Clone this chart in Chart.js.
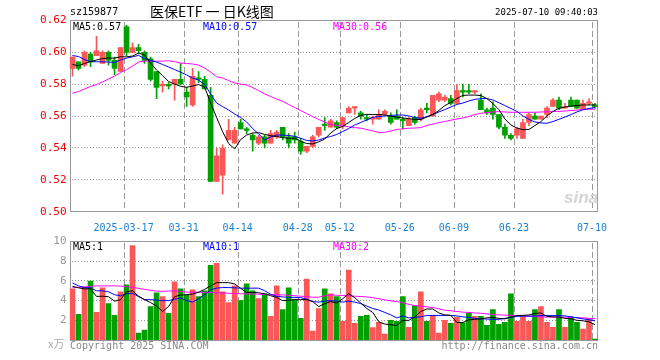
<!DOCTYPE html>
<html>
<head>
<meta charset="utf-8">
<script src="https://cdn.jsdelivr.net/npm/chart.js@4/dist/chart.umd.min.js"></script>
<style>
html,body{margin:0;padding:0;background:#fff;}
#wrap{position:relative;width:660px;height:360px;overflow:hidden;background:#fff;}
canvas{position:absolute;left:0;}
.t{position:absolute;white-space:nowrap;line-height:1;font-family:"DejaVu Sans Mono",monospace;font-size:10px;}
</style>
</head>
<body>
<div id="wrap">
  <canvas id="main" width="660" height="232" style="top:0"></canvas>
  <canvas id="vol" width="660" height="128" style="top:232px"></canvas>
  <div class="t" style="left:70px;top:7px;font-size:10px;color:#000">sz159877</div>
  <div class="t" style="left:150px;top:4px;font-size:14px;font-family:'Noto Sans CJK SC',sans-serif;color:#000">医保ETF 一 日K线图</div>
  <div class="t" style="right:62px;top:8px;font-size:9px;color:#000">2025-07-10 09:40:03</div>
  <div class="t" style="left:73px;top:22px;color:#000">MA5:0.57</div>
  <div class="t" style="left:203px;top:22px;color:#0000ff">MA10:0.57</div>
  <div class="t" style="left:333px;top:22px;color:#ff00ff">MA30:0.56</div>
  <div class="t" style="left:73px;top:242px;color:#000">MA5:1</div>
  <div class="t" style="left:203px;top:242px;color:#0000ff">MA10:1</div>
  <div class="t" style="left:333px;top:242px;color:#ff00ff">MA30:2</div>
  <div class="t" style="left:48px;top:338px;font-size:11px;color:#aaa;font-family:'Noto Sans CJK SC',serif">x万</div>
  <div class="t" style="left:70px;top:341px;color:#888">Copyright 2025 SINA.COM</div>
  <div class="t" style="right:62px;top:341px;color:#888">http://finance.sina.com.cn</div>
  <div class="t" style="left:564px;top:189px;font-size:17px;font-style:italic;font-weight:bold;color:#d4d4d4;font-family:'Liberation Sans',sans-serif">sina</div>
</div>
<script>
const dates = [
'2025-03-04','2025-03-05','2025-03-06','2025-03-07','2025-03-10','2025-03-11','2025-03-12','2025-03-13','2025-03-14','2025-03-17',
'2025-03-18','2025-03-19','2025-03-20','2025-03-21','2025-03-24','2025-03-25','2025-03-26','2025-03-27','2025-03-28','2025-03-31',
'2025-04-01','2025-04-02','2025-04-03','2025-04-07','2025-04-08','2025-04-09','2025-04-10','2025-04-11','2025-04-14','2025-04-15',
'2025-04-16','2025-04-17','2025-04-18','2025-04-21','2025-04-22','2025-04-23','2025-04-24','2025-04-25','2025-04-28','2025-04-29',
'2025-04-30','2025-05-06','2025-05-07','2025-05-08','2025-05-09','2025-05-12','2025-05-13','2025-05-14','2025-05-15','2025-05-16',
'2025-05-19','2025-05-20','2025-05-21','2025-05-22','2025-05-23','2025-05-26','2025-05-27','2025-05-28','2025-05-29','2025-05-30',
'2025-06-03','2025-06-04','2025-06-05','2025-06-06','2025-06-09','2025-06-10','2025-06-11','2025-06-12','2025-06-13','2025-06-16',
'2025-06-17','2025-06-18','2025-06-19','2025-06-20','2025-06-23','2025-06-24','2025-06-25','2025-06-26','2025-06-27','2025-06-30',
'2025-07-01','2025-07-02','2025-07-03','2025-07-04','2025-07-07','2025-07-08','2025-07-09','2025-07-10'];

const tickDates = ['2025-03-17','2025-03-31','2025-04-14','2025-04-28','2025-05-12','2025-05-26','2025-06-09','2025-06-23','2025-07-10'];
const tickTexts = ['2025-03-17','03-31','04-14','04-28','05-12','05-26','06-09','06-23','07-10'];

const opens = [0.590,0.594,0.592,0.599,0.598,0.593,0.600,0.595,0.588,0.616,
0.600,0.603,0.600,0.596,0.588,0.579,0.580,0.580,0.583,0.575,
0.567,0.584,0.583,0.573,0.519,0.523,0.545,0.543,0.556,0.552,
0.548,0.543,0.547,0.543,0.547,0.553,0.547,0.547,0.544,0.538,
0.541,0.548,0.555,0.553,0.556,0.554,0.562,0.565,0.562,0.559,
0.558,0.558,0.561,0.560,0.560,0.558,0.554,0.559,0.558,0.565,
0.560,0.570,0.570,0.571,0.568,0.576,0.576,0.575,0.570,0.564,
0.565,0.561,0.553,0.548,0.548,0.546,0.556,0.560,0.558,0.561,
0.566,0.570,0.565,0.570,0.570,0.564,0.568,0.567];
const highs = [0.597,0.594,0.601,0.600,0.610,0.601,0.601,0.597,0.603,0.617,
0.606,0.605,0.601,0.597,0.588,0.582,0.581,0.583,0.593,0.578,
0.590,0.588,0.585,0.578,0.540,0.542,0.558,0.553,0.558,0.553,
0.549,0.548,0.548,0.551,0.551,0.553,0.549,0.550,0.546,0.541,
0.548,0.553,0.559,0.558,0.557,0.559,0.566,0.566,0.563,0.561,
0.560,0.564,0.564,0.562,0.564,0.559,0.559,0.560,0.565,0.568,
0.573,0.575,0.573,0.573,0.580,0.580,0.580,0.576,0.574,0.565,
0.569,0.561,0.555,0.549,0.553,0.558,0.562,0.562,0.560,0.566,
0.571,0.572,0.568,0.572,0.570,0.570,0.571,0.568];
const lows = [0.585,0.589,0.591,0.591,0.598,0.593,0.592,0.586,0.588,0.598,
0.600,0.599,0.593,0.582,0.571,0.575,0.577,0.570,0.580,0.566,
0.566,0.581,0.577,0.519,0.519,0.511,0.545,0.543,0.552,0.549,
0.538,0.542,0.540,0.543,0.546,0.545,0.540,0.543,0.536,0.537,
0.540,0.547,0.551,0.553,0.552,0.552,0.562,0.561,0.558,0.557,
0.555,0.558,0.561,0.555,0.558,0.552,0.554,0.555,0.557,0.562,
0.560,0.569,0.569,0.567,0.568,0.572,0.574,0.574,0.564,0.561,
0.558,0.552,0.546,0.545,0.546,0.546,0.554,0.558,0.558,0.559,
0.566,0.564,0.565,0.566,0.565,0.564,0.567,0.565];
const closes = [0.597,0.590,0.600,0.594,0.601,0.600,0.595,0.590,0.603,0.600,
0.603,0.601,0.595,0.583,0.578,0.580,0.579,0.583,0.580,0.572,
0.585,0.583,0.577,0.519,0.535,0.540,0.551,0.551,0.552,0.551,
0.545,0.547,0.543,0.549,0.550,0.547,0.543,0.545,0.538,0.541,
0.547,0.553,0.554,0.557,0.553,0.559,0.565,0.566,0.560,0.558,
0.559,0.561,0.563,0.556,0.558,0.557,0.558,0.556,0.564,0.564,
0.573,0.574,0.572,0.568,0.576,0.575,0.575,0.576,0.564,0.562,
0.561,0.553,0.548,0.546,0.552,0.556,0.561,0.558,0.560,0.565,
0.570,0.565,0.566,0.566,0.565,0.568,0.569,0.566];

const ma5 = [0.5924,0.5916,0.5930,0.5942,0.5952,0.5961,0.5964,0.5964,0.5972,0.5972,
0.5977,0.5996,0.5983,0.5933,0.5889,0.5855,0.5817,0.5801,0.5787,0.5781,
0.5789,0.5798,0.5782,0.5682,0.5591,0.5502,0.5428,0.5394,0.5453,0.5481,
0.5494,0.5496,0.5485,0.5477,0.5472,0.5465,0.5461,0.5461,0.5441,0.5428,
0.5425,0.5438,0.5456,0.5494,0.5522,0.5535,0.5560,0.5585,0.5604,0.5611,
0.5610,0.5610,0.5607,0.5599,0.5594,0.5588,0.5584,0.5579,0.5579,0.5594,
0.5610,0.5635,0.5666,0.5686,0.5710,0.5730,0.5732,0.5732,0.5729,0.5710,
0.5679,0.5641,0.5582,0.5544,0.5525,0.5515,0.5516,0.5541,0.5566,0.5601,
0.5629,0.5649,0.5657,0.5663,0.5666,0.5670,0.5670,0.5670];
const ma10 = [0.5980,0.5974,0.5955,0.5942,0.5941,0.5941,0.5939,0.5937,0.5952,0.5964,
0.5972,0.5981,0.5961,0.5950,0.5939,0.5924,0.5908,0.5892,0.5876,0.5858,
0.5839,0.5826,0.5798,0.5739,0.5682,0.5660,0.5638,0.5613,0.5591,0.5563,
0.5522,0.5488,0.5450,0.5469,0.5481,0.5481,0.5478,0.5473,0.5461,0.5447,
0.5444,0.5450,0.5463,0.5472,0.5485,0.5503,0.5522,0.5544,0.5560,0.5576,
0.5592,0.5597,0.5601,0.5604,0.5607,0.5607,0.5601,0.5591,0.5586,0.5597,
0.5610,0.5626,0.5641,0.5657,0.5673,0.5682,0.5695,0.5705,0.5710,0.5710,
0.5701,0.5684,0.5666,0.5648,0.5629,0.5601,0.5579,0.5563,0.5557,0.5555,
0.5566,0.5580,0.5594,0.5610,0.5626,0.5640,0.5648,0.5654];
const ma30 = [0.5743,0.5754,0.5770,0.5786,0.5798,0.5814,0.5833,0.5851,0.5873,0.5892,
0.5914,0.5939,0.5945,0.5945,0.5945,0.5945,0.5947,0.5942,0.5933,0.5930,
0.5927,0.5920,0.5902,0.5876,0.5847,0.5839,0.5823,0.5808,0.5801,0.5795,
0.5779,0.5760,0.5739,0.5723,0.5707,0.5692,0.5673,0.5654,0.5635,0.5616,
0.5597,0.5579,0.5563,0.5547,0.5541,0.5538,0.5533,0.5528,0.5524,0.5516,
0.5507,0.5498,0.5498,0.5507,0.5516,0.5520,0.5524,0.5525,0.5528,0.5541,
0.5550,0.5559,0.5566,0.5574,0.5582,0.5588,0.5597,0.5610,0.5618,0.5621,
0.5626,0.5628,0.5626,0.5624,0.5624,0.5624,0.5624,0.5624,0.5626,0.5627,
0.5629,0.5630,0.5632,0.5635,0.5638,0.5641,0.5643,0.5643];

const volumes = [5.2,2.6,5.4,6.0,2.8,5.3,3.7,2.5,4.9,5.6,
9.6,0.7,1.0,3.4,4.8,4.4,2.7,5.9,5.2,4.6,
5.1,4.4,5.0,7.6,7.8,4.9,3.8,5.5,4.0,5.7,
5.0,4.2,4.7,2.4,5.5,3.1,5.3,4.1,2.2,6.2,
0.9,3.2,5.2,4.7,4.4,1.9,7.1,1.7,2.4,2.5,
1.25,1.8,0.6,2.0,1.9,4.4,1.3,3.5,4.9,1.9,
2.5,0.7,2.0,1.7,2.3,1.75,2.7,2.4,2.4,1.5,
3.1,1.6,1.8,4.7,1.9,2.4,1.9,3.1,3.4,1.8,
1.3,3.1,1.3,2.35,1.8,1.1,2.15,0.1];
const volMa5 = [5.45,5.3,5.2,5.2,4.43,4.45,4.4,3.95,4.1,4.9,
5.0,4.45,4.1,3.8,3.45,2.9,3.4,4.4,4.57,4.6,
4.67,4.85,5.15,5.5,5.83,5.83,5.83,5.7,5.25,4.83,
4.83,4.8,4.7,4.5,4.33,4.0,4.05,4.1,4.1,4.1,
3.9,3.4,3.7,3.9,3.75,4.2,4.7,4.3,3.75,3.2,
2.8,1.85,1.62,1.55,1.48,2.0,2.0,2.35,2.9,3.15,
3.15,2.75,2.55,2.5,1.78,1.78,2.05,2.1,2.15,2.25,
2.3,2.2,2.15,2.33,2.5,2.5,2.55,2.7,2.75,2.4,
2.35,2.33,2.2,2.15,2.0,1.95,1.85,1.55];
const volMa10 = [5.8,5.5,5.33,5.3,5.0,5.0,4.9,4.6,4.5,4.7,
4.75,4.4,4.1,4.1,4.05,4.0,4.0,4.15,4.27,4.0,
3.85,4.2,4.6,5.1,5.27,5.33,5.33,5.3,5.27,5.27,
5.27,5.27,5.0,4.65,4.43,4.38,4.33,4.33,4.3,4.15,
3.9,3.85,3.95,4.0,3.95,3.85,3.95,3.85,3.7,3.45,
3.2,3.05,2.8,2.55,2.25,2.45,2.25,2.3,2.35,2.5,
2.5,2.5,2.5,2.5,2.45,2.35,2.3,2.2,2.15,2.13,
2.1,2.1,2.2,2.3,2.4,2.43,2.43,2.45,2.48,2.48,
2.48,2.48,2.45,2.35,2.25,2.15,2.05,1.95];
const volMa30 = [5.35,5.35,5.38,5.45,5.5,5.5,5.5,5.5,5.48,5.43,
5.35,5.25,5.15,5.05,4.97,4.95,4.97,5.0,4.95,4.87,
4.85,4.85,4.85,4.83,4.8,4.78,4.75,4.72,4.7,4.68,
4.67,4.65,4.62,4.6,4.6,4.58,4.55,4.5,4.45,4.4,
4.35,4.35,4.5,4.58,4.55,4.52,4.5,4.45,4.42,4.38,
4.3,4.2,4.08,3.98,3.9,3.78,3.62,3.5,3.43,3.37,
3.3,3.17,3.03,2.97,2.9,2.83,2.8,2.75,2.72,2.65,
2.6,2.55,2.53,2.5,2.48,2.44,2.4,2.38,2.36,2.33,
2.33,2.33,2.33,2.3,2.28,2.25,2.2,2.17];

const RED = '#fa5858', GREEN = '#00a000';
const GRID = '#999999', FRAME = '#999999';
const MONO = 'DejaVu Sans Mono';
const candleColors = closes.map((c, i) => c >= opens[i] ? RED : GREEN);

// dotted / dashed grid and the frame, placed with the chart's own scales
function drawGridFrame(chart) {
  const { ctx, chartArea: a, scales } = chart;
  const L = Math.round(a.left), R = Math.round(a.right) - 1;
  const T = Math.floor(a.top), B = Math.floor(a.bottom);
  ctx.save();
  ctx.fillStyle = GRID;
  const ys = scales.y;
  const yt = ys.ticks;
  for (let k = 1; k < yt.length - 1; k++) {
    const y = Math.round(ys.getPixelForValue(yt[k].value) - 0.5);
    for (let x = L + 2; x < R; x += 3) ctx.fillRect(x, y, 1, 1);
  }
  const xs = scales.x;
  for (let k = 0; k < tickDates.length; k++) {
    const idx = dates.indexOf(tickDates[k]);
    const x = Math.round(xs.getPixelForValue(idx) - 2.5);
    for (let y = T + 2; y < B; y += 9) ctx.fillRect(x, y, 1, Math.min(6, B - y));
  }
  ctx.fillStyle = FRAME;
  ctx.fillRect(L, T, R - L + 1, 1);
  ctx.fillRect(L, B, R - L + 1, 1);
  ctx.fillRect(L, T, 1, B - T + 1);
  ctx.fillRect(R, T, 1, B - T + 1);
  ctx.restore();
}
const gridFramePlugin = { id: 'gridFrame', beforeDatasetsDraw: drawGridFrame };

function lineDs(data, color) {
  return { type: 'line', data, borderColor: color, backgroundColor: color, borderWidth: 1, pointRadius: 0, fill: false, tension: 0, order: 0 };
}

new Chart(document.getElementById('main'), {
  data: {
    labels: dates,
    datasets: [
      { type: 'bar', data: lows.map((l, i) => [l, highs[i]]), backgroundColor: candleColors, barThickness: 1, grouped: false, order: 2, borderWidth: 0 },
      { type: 'bar', data: opens.map((o, i) => [o, closes[i]]), backgroundColor: candleColors, barThickness: 5, grouped: false, order: 1, borderWidth: 0, minBarLength: 1 },
      lineDs(ma5, '#000000'),
      lineDs(ma10, '#0000ff'),
      lineDs(ma30, '#ff00ff')
    ]
  },
  options: {
    responsive: false, animation: false, events: [],
    layout: { padding: { top: 20.5, right: 62, left: 0, bottom: 0 } },
    plugins: { legend: { display: false }, tooltip: { enabled: false } },
    scales: {
      x: {
        type: 'category', offset: true,
        grid: { display: false },
        border: { display: false },
        ticks: {
          autoSkip: false, maxRotation: 0, minRotation: 0, padding: 3, labelOffset: -3,
          color: '#1a7fd4', font: { family: MONO, size: 10 },
          callback: (v, i) => { const k = tickDates.indexOf(dates[i]); return k >= 0 ? tickTexts[k] : ''; }
        },
        afterFit: s => { s.height = 20.3; }
      },
      y: {
        min: 0.50, max: 0.62,
        ticks: { stepSize: 0.02, color: '#ee0000', padding: 3, font: { family: MONO, size: 11 }, callback: v => v.toFixed(2) },
        grid: { display: false, drawTicks: false },
        border: { display: false },
        afterFit: s => { s.width = 69.5; }
      }
    }
  },
  plugins: [gridFramePlugin]
});

new Chart(document.getElementById('vol'), {
  data: {
    labels: dates,
    datasets: [
      { type: 'bar', data: volumes, backgroundColor: candleColors, barThickness: 5, order: 1, borderWidth: 0 },
      lineDs(volMa5, '#000000'),
      lineDs(volMa10, '#0000ff'),
      lineDs(volMa30, '#ff00ff')
    ]
  },
  options: {
    responsive: false, animation: false, events: [],
    layout: { padding: { top: 8, right: 62, left: 0, bottom: 0 } },
    plugins: { legend: { display: false }, tooltip: { enabled: false } },
    scales: {
      x: {
        type: 'category', offset: true,
        grid: { display: false },
        border: { display: false },
        ticks: { display: false, autoSkip: false },
        afterFit: s => { s.height = 20; }
      },
      y: {
        min: 0, max: 10,
        ticks: { stepSize: 2, color: '#999999', padding: 3, font: { family: MONO, size: 11 }, callback: v => v === 0 ? '' : String(v) },
        grid: { display: false, drawTicks: false },
        border: { display: false },
        afterFit: s => { s.width = 69.5; }
      }
    }
  },
  plugins: [gridFramePlugin]
});
</script>
</body>
</html>
